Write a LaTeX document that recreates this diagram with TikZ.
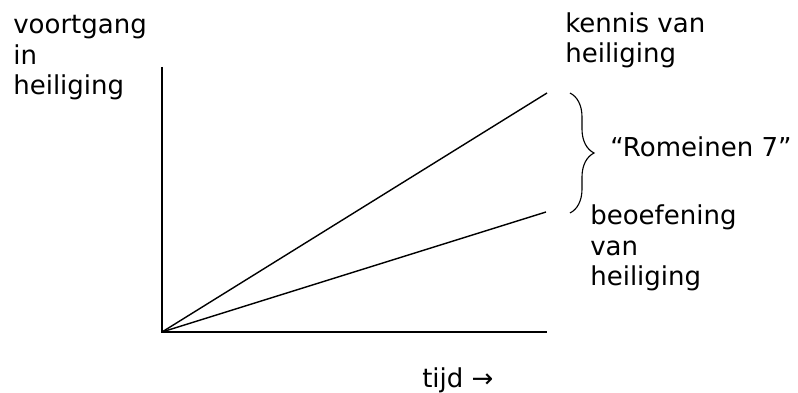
\documentclass[tikz,border=0pt]{standalone}
\usepackage{fontspec}
\setmainfont{DejaVu Sans}
\usetikzlibrary{positioning, decorations.pathreplacing}

\begin{document}
\begin{tikzpicture}[x=0.025cm, y=-0.025cm,
    font=\fontsize{18.5}{22}\selectfont,
    tekst/.style={inner sep=0pt, anchor=base west, align=left},
    as/.style={line width=1pt, draw=black},
    lijn/.style={line width=1pt, draw=black},
    accolade/.style={line width=0.8pt, draw=black,
                     decorate, decoration={brace, amplitude=0.6cm, aspect=0.5}}]

    \useasboundingbox (0,0) rectangle (798,393);

    % ---------------- punten ----------------
    \coordinate (o)     at (162,332);
    \coordinate (ytop)  at (162,67);
    \coordinate (xend)  at (547,332);
    \coordinate (kend)  at (547,93);
    \coordinate (bend)  at (546,212);
    \coordinate (acbo)  at (570,93);
    \coordinate (acon)  at (570,213);

    % ---------------- teksten (basislijn van de laatste regel) ----------------
    \node (yas)   [tekst] at (13,95)   {voortgang\\in\\heiliging};
    \node (kenn)  [tekst] at (565,63)  {kennis van\\heiliging};
    \node (rom)   [tekst] at (610,157) {“Romeinen 7”};
    \node (beoe)  [tekst] at (590,286) {beoefening\\van\\heiliging};
    \node (tijd)  [tekst] at (422,388) {tijd →};

    % ---------------- assen en lijnen ----------------
    \draw [as] (ytop) -- (o) -- (xend);
    \draw [lijn] (o) -- (kend);
    \draw [lijn] (o) -- (bend);
    \draw [accolade] (acbo) -- (acon);
\end{tikzpicture}
\end{document}
